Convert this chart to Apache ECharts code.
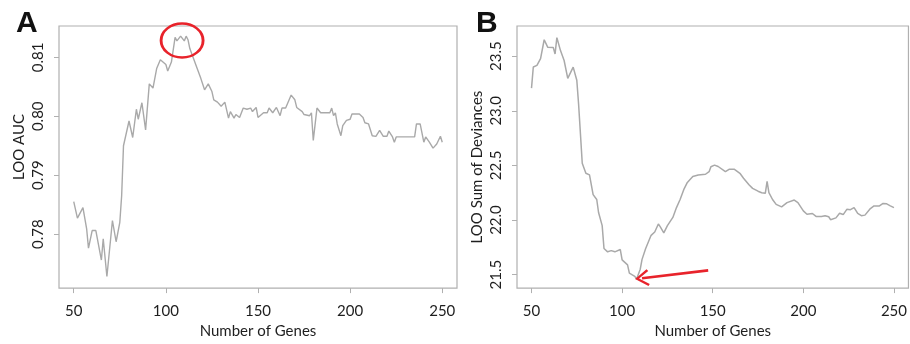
<!DOCTYPE html>
<html>
<head>
<meta charset="utf-8">
<script src="https://cdn.jsdelivr.net/npm/echarts@6/dist/echarts.min.js"></script>
<style>
html,body{margin:0;padding:0;background:#fff;}
#chart{width:910px;height:344px;}
</style>
</head>
<body>
<div id="chart"></div>
<script>
// Panel A: LOO AUC vs number of genes
const genesA = [50,52,55,57,58,60,62,65,66,68,71,73,75,76,77,78,80,82,84,85,87,89,91,93,95,97,98,100,101,102,103,105,106,108,110,111,112,113,115,117,119,121,123,125,126,128,130,132,134,135,137,138,140,142,144,146,147,149,150,153,155,156,158,160,162,163,165,168,170,171,172,174,175,178,179,180,182,184,189,190,191,192,193,195,196,198,200,201,205,207,208,210,212,214,216,218,220,221,223,224,225,235,236,238,240,241,243,245,247,249,250];
const aucA = [0.7855,0.7827,0.7845,0.7809,0.7776,0.7806,0.7806,0.7756,0.7792,0.7728,0.7823,0.7787,0.7820,0.7865,0.7950,0.7948,0.7992,0.7964,0.8012,0.7995,0.8023,0.7977,0.8055,0.8048,0.8081,0.8096,0.8096,0.8088,0.8077,0.8077,0.8092,0.8134,0.8128,0.8136,0.8128,0.8136,0.8130,0.8115,0.8098,0.8081,0.8064,0.8045,0.8055,0.8042,0.8028,0.8024,0.8017,0.8024,0.7997,0.8008,0.7997,0.8003,0.7998,0.8014,0.8012,0.8014,0.8008,0.8015,0.7998,0.8006,0.8006,0.8014,0.8006,0.8015,0.8001,0.8014,0.8014,0.8036,0.8028,0.8015,0.8014,0.8008,0.8003,0.8001,0.8006,0.7959,0.8014,0.8006,0.8006,0.8014,0.8001,0.8006,0.7987,0.7967,0.7984,0.7993,0.7995,0.8004,0.8004,0.7998,0.7989,0.7987,0.7967,0.7966,0.7976,0.7966,0.7966,0.7975,0.7965,0.7956,0.7965,0.7965,0.7987,0.7987,0.7956,0.7965,0.7956,0.7946,0.7953,0.7966,0.7956];

// Panel B: LOO sum of deviances vs number of genes
const genesB = [50,51,53,55,57,59,60,62,63,64,66,68,70,71,73,75,76,77,78,80,82,84,86,87,89,90,92,94,96,97,99,100,103,104,105,107,108,109,110,111,113,116,118,120,121,123,125,128,130,132,134,136,139,142,146,148,149,151,153,154,157,159,162,165,167,170,172,175,177,179,180,181,183,185,188,191,192,195,197,200,202,205,207,210,212,214,215,218,220,222,224,226,228,230,232,234,237,239,242,244,246,248,250];
const devB = [23.207,23.401,23.416,23.477,23.650,23.581,23.566,23.58,23.52,23.67,23.551,23.46,23.297,23.30,23.40,23.28,23.057,22.79,22.52,22.428,22.413,22.233,22.188,22.069,21.949,21.739,21.709,21.72,21.709,21.70,21.73,21.635,21.59,21.514,21.52,21.485,21.46,21.46,21.55,21.64,21.74,21.86,21.89,21.964,21.94,21.883,21.949,22.024,22.114,22.188,22.278,22.344,22.398,22.413,22.419,22.443,22.488,22.503,22.49,22.494,22.443,22.464,22.464,22.428,22.383,22.323,22.29,22.264,22.25,22.245,22.353,22.25,22.188,22.143,22.12,22.159,22.16,22.183,22.16,22.084,22.053,22.06,22.033,22.033,22.04,22.03,22.003,22.02,22.062,22.05,22.098,22.095,22.114,22.06,22.04,22.045,22.105,22.129,22.129,22.152,22.148,22.13,22.114];

const xTicks = [50,100,150,200,250];
const yTicksA = [0.78,0.79,0.80,0.81];
const yTicksB = [21.5,22.0,22.5,23.0,23.5];

const FONT = 'Lato';
const TXT = '#1e1e1e';
const AXC = '#b0b0b0';
const LINEC = '#a9a9a9';
const RED = '#e8232b';

function xAxisCfg(idx){
  return {
    type:'value', gridIndex:idx, min:42, max:258,
    name:'Number of Genes', nameLocation:'middle', nameGap:33,
    nameTextStyle:{fontFamily:FONT,fontSize:15,color:TXT},
    axisLine:{show:false},
    splitLine:{show:false},
    axisTick:{show:true,customValues:xTicks,length:5,lineStyle:{color:AXC,width:1}},
    axisLabel:{customValues:xTicks,margin:16,fontFamily:FONT,fontSize:15,color:TXT}
  };
}
function yAxisCfg(idx,min,max,ticks,dec,name,pad){
  return {
    type:'value', gridIndex:idx, min:min, max:max,
    name:name, nameLocation:'middle', nameGap:32,
    nameTextStyle:{fontFamily:FONT,fontSize:15,color:TXT,padding:pad},
    axisLine:{show:false},
    splitLine:{show:false},
    axisTick:{show:true,customValues:ticks,length:5,lineStyle:{color:AXC,width:1}},
    axisLabel:{customValues:ticks,rotate:90,margin:13,fontFamily:FONT,fontSize:15,color:TXT,
      formatter:v=>Number(v).toFixed(dec)}
  };
}

const arrowPath = 'path://M0,0 L11,15 L8.4,16.8 L0,4.8 L-8.4,16.8 L-11,15 Z';

const chart = echarts.init(document.getElementById('chart'),null,{renderer:'canvas'});
chart.setOption({
  backgroundColor:'#fff',
  animation:false,
  title:[
    {text:'A',left:11,top:4,textStyle:{fontFamily:'Liberation Sans',fontSize:30,fontWeight:'bold',color:'#111'}},
    {text:'B',left:471,top:4,textStyle:{fontFamily:'Liberation Sans',fontSize:30,fontWeight:'bold',color:'#111'}}
  ],
  grid:[
    {left:59,top:26,width:398,height:267,show:true,borderColor:AXC,borderWidth:1.2,backgroundColor:'transparent'},
    {left:517,top:26,width:400,height:267,show:true,borderColor:AXC,borderWidth:1.2,backgroundColor:'transparent'}
  ],
  xAxis:[xAxisCfg(0),xAxisCfg(1)],
  yAxis:[
    yAxisCfg(0,0.77083,0.81533,yTicksA,2,'LOO AUC',[0,0,0,20]),
    yAxisCfg(1,21.377,23.776,yTicksB,1,'LOO Sum of Deviances',[0,20,0,0])
  ],
  series:[
    {
      type:'line', xAxisIndex:0, yAxisIndex:0, showSymbol:false, symbol:'none',
      lineStyle:{color:LINEC,width:1.4},
      data:genesA.map((g,i)=>[g,aucA[i]]),
      markPoint:{
        silent:true,
        symbol:'circle', symbolSize:[42,34],
        itemStyle:{color:'rgba(0,0,0,0)',borderColor:RED,borderWidth:2.6},
        label:{show:false},
        data:[{coord:[108.8,0.81287]}]
      }
    },
    {
      type:'line', xAxisIndex:1, yAxisIndex:1, showSymbol:false, symbol:'none',
      lineStyle:{color:LINEC,width:1.5},
      data:genesB.map((g,i)=>[g,devB[i]]),
      markLine:{
        silent:true,
        symbol:['none',arrowPath], symbolSize:[17,14],
        lineStyle:{color:RED,width:2.6,type:'solid'},
        itemStyle:{color:RED},
        label:{show:false},
        data:[[{coord:[147.5,21.539]},{coord:[111.0,21.467]}]]
      }
    }
  ]
});
</script>
</body>
</html>
